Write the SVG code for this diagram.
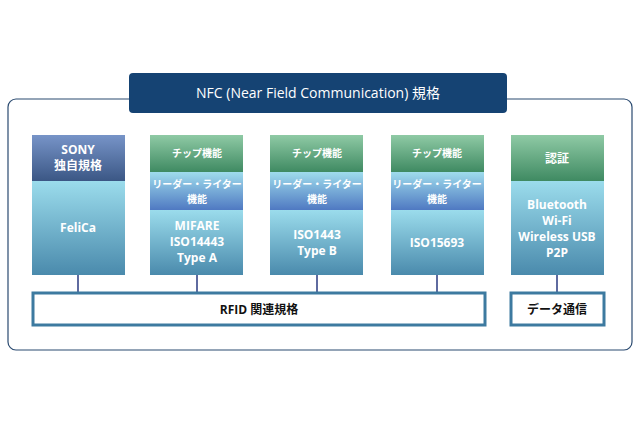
<svg xmlns="http://www.w3.org/2000/svg" width="640" height="426" viewBox="0 0 640 426">
<defs>
<linearGradient id="gG" x1="0" y1="0" x2="0" y2="1"><stop offset="0" stop-color="#8fcaa5"/><stop offset="1" stop-color="#3f8a62"/></linearGradient>
<linearGradient id="gS" x1="0" y1="0" x2="0" y2="1"><stop offset="0" stop-color="#7794c8"/><stop offset="1" stop-color="#3b5785"/></linearGradient>
<linearGradient id="gR" x1="0" y1="0" x2="0" y2="1"><stop offset="0" stop-color="#9fdcec"/><stop offset="1" stop-color="#4f79c2"/></linearGradient>
<linearGradient id="gB" x1="0" y1="0" x2="0" y2="1"><stop offset="0" stop-color="#9bdcec"/><stop offset="1" stop-color="#4a8aac"/></linearGradient>
</defs>
<style>
text{font-family:"Open Sans","Noto Sans CJK JP",sans-serif;fill:#fff;text-anchor:middle;font-weight:600}
.s{font-size:10px}.m{font-size:12px;font-weight:700}
.k{fill:#111;font-size:12px;font-weight:700}
.c{stroke:#2a3a80;stroke-width:1.5}
</style>
<rect x="8" y="99" width="624" height="251" rx="8" fill="#fff" stroke="#2a4a70" stroke-width="1.2"/>
<g id="title"><rect x="129" y="73" width="378" height="40" rx="4" fill="#154373"/><text x="318" y="98" style="font-size:14px;font-weight:400">NFC (Near Field Communication) 規格</text></g>
<g id="connectors">
<line class="c" x1="78" y1="275" x2="78" y2="293"/><line class="c" x1="197" y1="275" x2="197" y2="293"/><line class="c" x1="317" y1="275" x2="317" y2="293"/><line class="c" x1="437" y1="275" x2="437" y2="293"/><line class="c" x1="557" y1="275" x2="557" y2="293"/>
</g>
<g id="felica"><rect x="32" y="181" width="93" height="94" fill="url(#gB)"/><rect x="32" y="135" width="93" height="46" fill="url(#gS)"/><text x="78" y="154" class="m">SONY</text><text x="78" y="170" class="m">独自規格</text><text x="78" y="232" class="m">FeliCa</text></g>
<g id="mifare"><rect x="150" y="210" width="93" height="65" fill="url(#gB)"/><rect x="150" y="172" width="93" height="38" fill="url(#gR)"/><rect x="150" y="135" width="93" height="37" fill="url(#gG)"/><text x="197" y="157" class="s">チップ機能</text><text x="197" y="188" class="s">リーダー・ライター</text><text x="197" y="203" class="s">機能</text><text x="197" y="230" class="m">MIFARE</text><text x="197" y="246" class="m">ISO14443</text><text x="197" y="262" class="m">Type A</text></g>
<g id="typeb"><rect x="270" y="210" width="93" height="65" fill="url(#gB)"/><rect x="270" y="172" width="93" height="38" fill="url(#gR)"/><rect x="270" y="135" width="93" height="37" fill="url(#gG)"/><text x="317" y="157" class="s">チップ機能</text><text x="317" y="188" class="s">リーダー・ライター</text><text x="317" y="203" class="s">機能</text><text x="317" y="239" class="m">ISO1443</text><text x="317" y="255" class="m">Type B</text></g>
<g id="iso15693"><rect x="391" y="210" width="93" height="65" fill="url(#gB)"/><rect x="391" y="172" width="93" height="38" fill="url(#gR)"/><rect x="391" y="135" width="93" height="37" fill="url(#gG)"/><text x="437" y="157" class="s">チップ機能</text><text x="437" y="188" class="s">リーダー・ライター</text><text x="437" y="203" class="s">機能</text><text x="437" y="247" class="m">ISO15693</text></g>
<g id="auth"><rect x="511" y="181" width="93" height="94" fill="url(#gB)"/><rect x="511" y="135" width="93" height="46" fill="url(#gG)"/><text x="557" y="163" class="m">認証</text><text x="557" y="209" class="m">Bluetooth</text><text x="557" y="225" class="m">Wi-Fi</text><text x="557" y="241" class="m">Wireless USB</text><text x="557" y="257" class="m">P2P</text></g>
<g id="rfid"><rect x="33" y="293" width="452" height="32" fill="#fff" stroke="#3d7aa0" stroke-width="3"/><text x="259" y="314" class="k">RFID 関連規格</text></g>
<g id="data"><rect x="511" y="293" width="93" height="32" fill="#fff" stroke="#3d7aa0" stroke-width="3"/><text x="557" y="314" class="k">データ通信</text></g>
</svg>
